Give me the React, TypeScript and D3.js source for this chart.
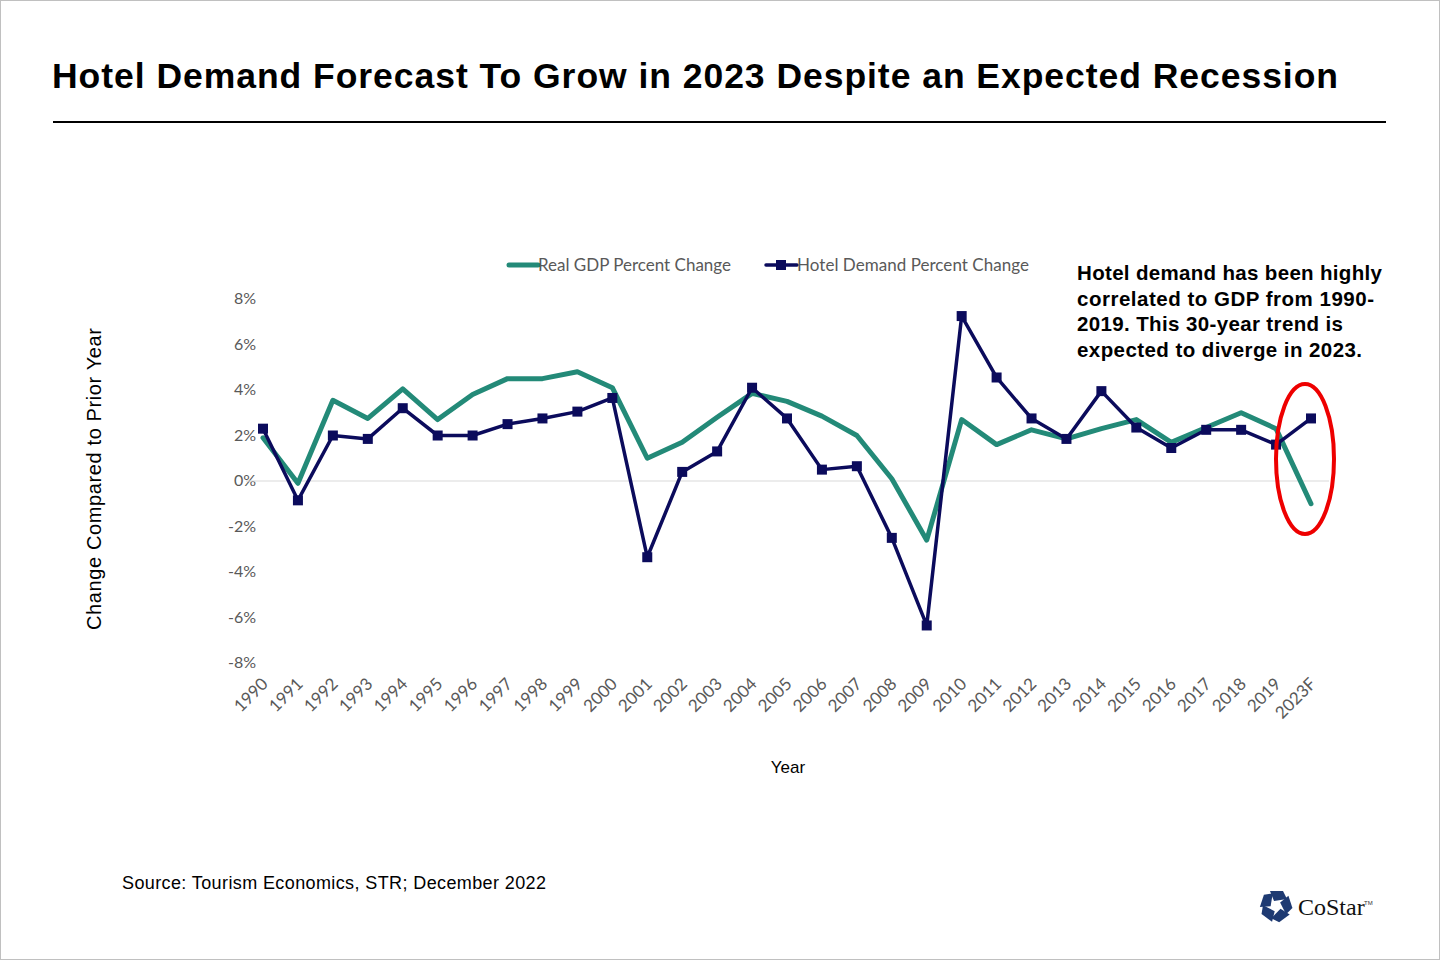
import React from "react";
import * as d3 from "d3";

const years = ["1990","1991","1992","1993","1994","1995","1996","1997","1998","1999","2000","2001","2002","2003","2004","2005","2006","2007","2008","2009","2010","2011","2012","2013","2014","2015","2016","2017","2018","2019","2023F"];
const gdpChange = [1.9,-0.1,3.55,2.75,4.05,2.7,3.8,4.5,4.5,4.8,4.1,1.0,1.7,2.8,3.85,3.5,2.85,2.0,0.1,-2.6,2.7,1.6,2.25,1.85,2.3,2.7,1.7,2.35,3.0,2.3,-1.0];
const hotelChange = [2.3,-0.85,2.0,1.85,3.2,2.0,2.0,2.5,2.75,3.05,3.65,-3.35,0.4,1.3,4.1,2.75,0.5,0.65,-2.5,-6.35,7.25,4.55,2.75,1.85,3.95,2.35,1.45,2.25,2.25,1.6,2.75];
const yTicks = [-8,-6,-4,-2,0,2,4,6,8];
const annotationLines = ["Hotel demand has been highly","correlated to GDP from 1990-","2019. This 30-year trend is","expected to diverge in 2023."];
const annotationWidths = [305, 297, 266, 285];

const TEAL = "#238a78";
const NAVY = "#0b0b5c";

export default function App() {
  const W = 1440, H = 960;
  const x = d3.scalePoint<string>().domain(years).range([263, 1311]);
  const y = d3.scaleLinear().domain([-8, 8]).range([663, 299]);
  const gdpLine = d3.line<number>().x((_, i) => x(years[i])!).y(d => y(d));
  const hotelLine = d3.line<number>().x((_, i) => x(years[i])!).y(d => y(d));
  const ms = 10;
  const chartFont = "Lato, 'Open Sans', sans-serif";
  const arial = "'Liberation Sans', Arial, sans-serif";

  const cx = 1276, cy = 906;
  const logoPieces = d3.range(5);

  return (
    <svg width={W} height={H} style={{ position: "absolute", left: 0, top: 0, background: "#fff" }}>
      <rect x={0.5} y={0.5} width={W - 1} height={H - 1} fill="#fff" stroke="#c0c0c0" strokeWidth={1} />
      <text x={52} y={88} fontFamily={arial} fontWeight="bold" fontSize={35.5} fill="#000" textLength={1286} lengthAdjust="spacing">
        Hotel Demand Forecast To Grow in 2023 Despite an Expected Recession
      </text>
      <line x1={53} x2={1386} y1={122} y2={122} stroke="#000" strokeWidth={2} />

      {/* legend */}
      <line x1={509} x2={538} y1={265} y2={265} stroke={TEAL} strokeWidth={5} strokeLinecap="round" />
      <text x={538} y={271} fontFamily={chartFont} fontSize={17} fill="#595959" textLength={193} lengthAdjust="spacing">Real GDP Percent Change</text>
      <line x1={766} x2={797} y1={265} y2={265} stroke={NAVY} strokeWidth={3.5} strokeLinecap="round" />
      <rect x={781 - 5} y={265 - 5} width={10} height={10} fill={NAVY} />
      <text x={797} y={271} fontFamily={chartFont} fontSize={17} fill="#595959" textLength={232} lengthAdjust="spacing">Hotel Demand Percent Change</text>

      {/* y axis ticks */}
      {yTicks.map(t => (
        <text key={t} x={256} y={y(t) + 5} textAnchor="end" fontFamily={chartFont} fontSize={16} fill="#595959">
          {t}%
        </text>
      ))}
      <text transform={`translate(101,479) rotate(-90)`} textAnchor="middle" fontFamily={arial} fontSize={20} fill="#000" textLength={302} lengthAdjust="spacing">
        Change Compared to Prior Year
      </text>

      {/* zero axis line */}
      <line x1={246} x2={1329} y1={y(0)} y2={y(0)} stroke="#d9d9d9" strokeWidth={1} />

      {/* x labels */}
      {years.map(yr => (
        <text key={yr} transform={`translate(${x(yr)! + 6},${685}) rotate(-45)`} textAnchor="end" fontFamily={chartFont} fontSize={17} fill="#595959">
          {yr}
        </text>
      ))}
      <text x={788} y={773} textAnchor="middle" fontFamily={arial} fontSize={17} fill="#000">Year</text>

      {/* lines */}
      <path d={gdpLine(gdpChange)!} fill="none" stroke={TEAL} strokeWidth={5} strokeLinejoin="round" strokeLinecap="round" />
      <path d={hotelLine(hotelChange)!} fill="none" stroke={NAVY} strokeWidth={3.5} strokeLinejoin="round" />
      {hotelChange.map((v, i) => (
        <rect key={i} x={x(years[i])! - ms / 2} y={y(v) - ms / 2} width={ms} height={ms} fill={NAVY} />
      ))}

      {/* annotation */}
      {annotationLines.map((l, i) => (
        <text key={i} x={1077} y={280 + i * 25.7} fontFamily={arial} fontWeight="bold" fontSize={20.5} fill="#000" textLength={annotationWidths[i]} lengthAdjust="spacing">{l}</text>
      ))}
      <ellipse cx={1305} cy={459} rx={29} ry={75} fill="none" stroke="#ee0000" strokeWidth={4} />

      {/* source */}
      <text x={122} y={889} fontFamily={arial} fontSize={18} fill="#000" textLength={424} lengthAdjust="spacing">Source: Tourism Economics, STR; December 2022</text>

      {/* logo */}
      <g transform={`translate(${cx},${cy})`}>
        {logoPieces.map(k => (
          <polygon key={k} transform={`rotate(${k * 72})`} points="-6,-15 7,-15 11,-7 -2,-5" fill="#1e3a72" />
        ))}
      </g>
      <text x={1298} y={915} fontFamily="'Liberation Serif', 'DejaVu Serif', serif" fontSize={24} fill="#111">CoStar</text>
      <text x={1364} y={905} fontFamily={arial} fontSize={6} fill="#333">TM</text>
    </svg>
  );
}
